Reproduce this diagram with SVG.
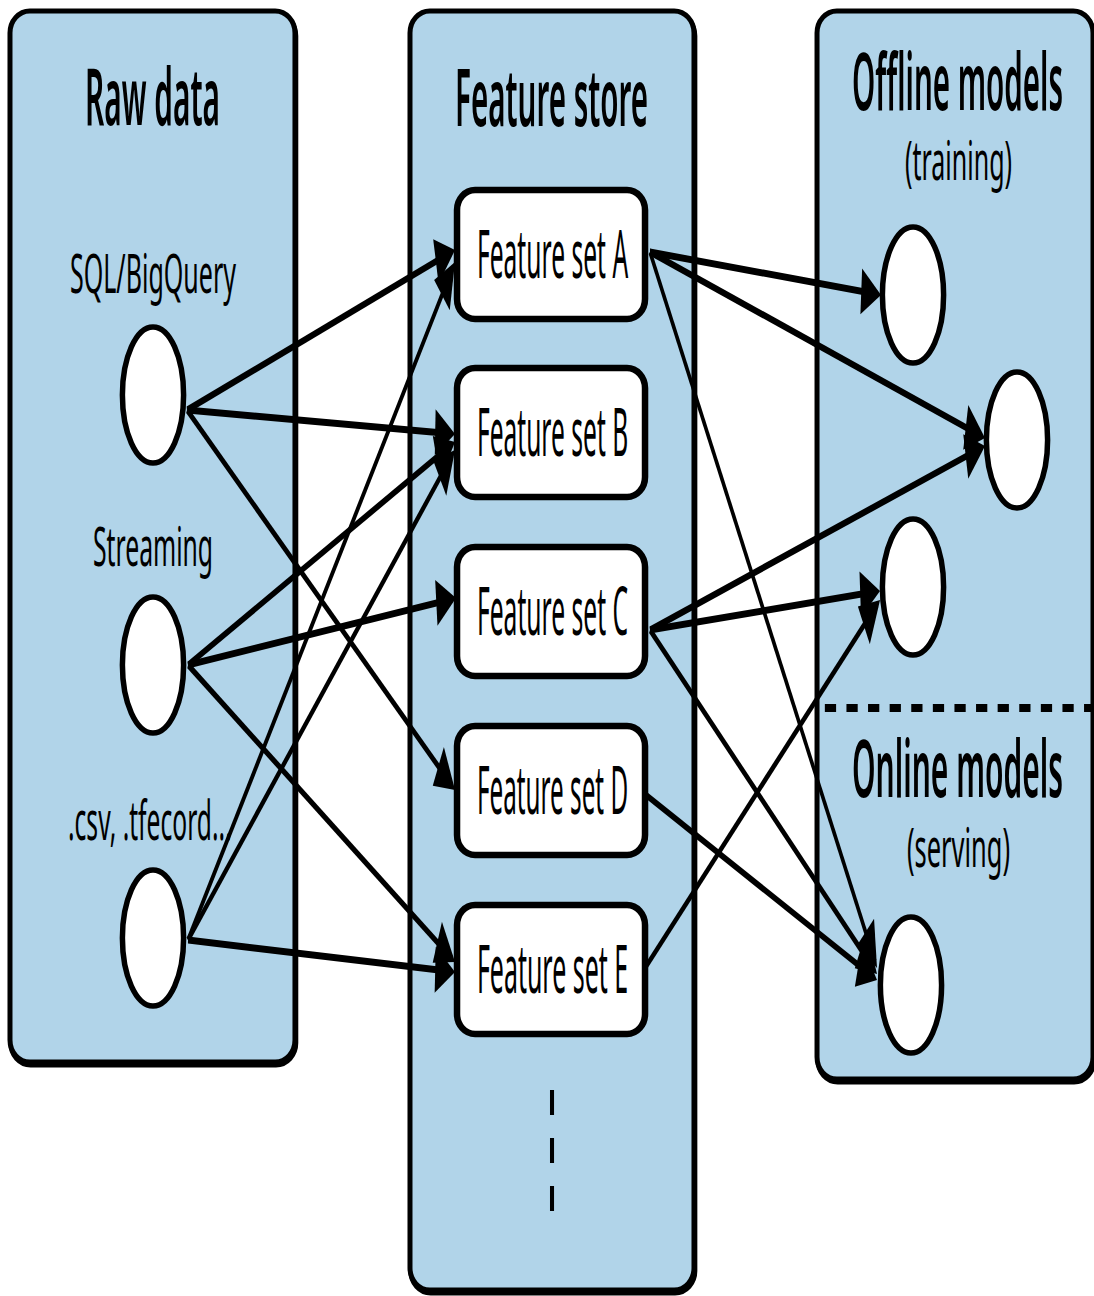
<svg xmlns="http://www.w3.org/2000/svg" width="1094" height="1296" viewBox="0 0 1094 1296">
<defs>
<style>
.panel{fill:#b1d4e9;stroke:#000;stroke-width:5;vector-effect:non-scaling-stroke}
.shadow{fill:#000;stroke:#000;stroke-width:5;vector-effect:non-scaling-stroke}
.box{fill:#fff;stroke:#000;stroke-width:6.5;vector-effect:non-scaling-stroke}
.dot{fill:#fff;stroke:#000;stroke-width:5.5;vector-effect:non-scaling-stroke}
.conn{fill:none;stroke:#000;stroke-width:7;marker-end:url(#ah)}
.sep{fill:none;stroke:#000;stroke-dasharray:25 23}
text{font-family:"Noto Sans","Liberation Sans",sans-serif;text-anchor:middle;fill:#000}
.title{font-size:80px;font-weight:600}
.sub{font-size:54px}
.lab{font-size:54px}
.fs{font-size:68px}
</style>
<marker id="ah" markerUnits="userSpaceOnUse" markerWidth="44" markerHeight="46" viewBox="0 0 44 46" refX="36" refY="23" orient="auto" overflow="visible">
<path d="M0,0 L44,23 L0,46 z" fill="#000"/>
</marker>
</defs>
<rect width="1094" height="1296" fill="#fff"/>
<g transform="scale(0.45 1)">
  <g id="panel-raw">
    <rect class="shadow" x="24" y="14" width="633.3" height="1051" rx="44" ry="22"/>
    <rect class="panel" x="22.2" y="11" width="633.3" height="1051" rx="44" ry="22"/>
    <text class="title" x="338.9" y="125" textLength="300" lengthAdjust="spacingAndGlyphs">Raw data</text>
  </g>
  <g id="panel-store">
    <rect class="shadow" x="913" y="14" width="631.1" height="1279" rx="44" ry="22"/>
    <rect class="panel" x="911.1" y="11" width="631.1" height="1279" rx="44" ry="22"/>
    <text class="title" x="1225.6" y="126" textLength="429" lengthAdjust="spacingAndGlyphs">Feature store</text>
    <line class="sep" x1="1226.7" y1="1090" x2="1226.7" y2="1213" stroke-width="9"/>
  </g>
  <g id="panel-models">
    <rect class="shadow" x="1817.6" y="14" width="613.3" height="1068" rx="44" ry="22"/>
    <rect class="panel" x="1815.6" y="11" width="613.3" height="1068" rx="44" ry="22"/>
    <text class="title" x="2127.8" y="110" textLength="469" lengthAdjust="spacingAndGlyphs">Offline models</text>
    <text class="sub" x="2130" y="180" textLength="238" lengthAdjust="spacingAndGlyphs">(training)</text>
    <line class="sep" x1="1833" y1="708" x2="2440" y2="708" stroke-width="8"/>
    <text class="title" x="2127.8" y="797" textLength="469" lengthAdjust="spacingAndGlyphs">Online models</text>
    <text class="sub" x="2130" y="867" textLength="229" lengthAdjust="spacingAndGlyphs">(serving)</text>
  </g>
  <g id="connectors">
    <line class="conn" x1="415.6" y1="410" x2="1003.4" y2="252.1"/>
    <line class="conn" x1="415.6" y1="410" x2="1003.1" y2="433.7"/>
    <line class="conn" x1="415.6" y1="410" x2="1004.4" y2="785.7"/>
    <line class="conn" x1="417.8" y1="665" x2="1003.6" y2="444.8"/>
    <line class="conn" x1="417.8" y1="665" x2="1005.4" y2="598.9"/>
    <line class="conn" x1="417.8" y1="665" x2="1004.0" y2="958.4"/>
    <line class="conn" x1="417.8" y1="940" x2="1005.8" y2="268.0"/>
    <line class="conn" x1="417.8" y1="940" x2="1004.9" y2="455.1"/>
    <line class="conn" x1="417.8" y1="940" x2="1003.1" y2="971.6"/>
    <line class="conn" x1="1444.4" y1="252" x2="1949.8" y2="294.3"/>
    <line class="conn" x1="1444.4" y1="252" x2="2181.1" y2="436.1"/>
    <line class="conn" x1="1444.4" y1="252" x2="1944.3" y2="961.5"/>
    <line class="conn" x1="1444.4" y1="630" x2="2181.1" y2="447.9"/>
    <line class="conn" x1="1444.4" y1="630" x2="1947.6" y2="591.6"/>
    <line class="conn" x1="1444.4" y1="630" x2="1942.3" y2="969.5"/>
    <line class="conn" x1="1435.6" y1="795" x2="1941.4" y2="977.3"/>
    <line class="conn" x1="1437.8" y1="965" x2="1949.1" y2="604.6"/>
  </g>
  <g id="src-sql">
    <text class="lab" x="340" y="293" textLength="369" lengthAdjust="spacingAndGlyphs">SQL/BigQuery</text>
    <circle class="dot" cx="340" cy="395" r="68"/>
  </g>
  <g id="src-streaming">
    <text class="lab" x="340" y="566" textLength="267" lengthAdjust="spacingAndGlyphs">Streaming</text>
    <circle class="dot" cx="340" cy="665" r="68"/>
  </g>
  <g id="src-files">
    <text class="lab" x="333" y="840" textLength="364" lengthAdjust="spacingAndGlyphs">.csv, .tfecord...</text>
    <circle class="dot" cx="340" cy="938" r="68"/>
  </g>
  <g id="fs-a">
    <rect class="box" x="1015.6" y="190" width="417.8" height="129" rx="40" ry="20"/>
    <text class="fs" x="1227.8" y="278" textLength="336" lengthAdjust="spacingAndGlyphs">Feature set A</text>
  </g>
  <g id="fs-b">
    <rect class="box" x="1015.6" y="368" width="417.8" height="129" rx="40" ry="20"/>
    <text class="fs" x="1227.8" y="456" textLength="336" lengthAdjust="spacingAndGlyphs">Feature set B</text>
  </g>
  <g id="fs-c">
    <rect class="box" x="1015.6" y="547" width="417.8" height="129" rx="40" ry="20"/>
    <text class="fs" x="1227.8" y="635" textLength="336" lengthAdjust="spacingAndGlyphs">Feature set C</text>
  </g>
  <g id="fs-d">
    <rect class="box" x="1015.6" y="726" width="417.8" height="129" rx="40" ry="20"/>
    <text class="fs" x="1227.8" y="814" textLength="336" lengthAdjust="spacingAndGlyphs">Feature set D</text>
  </g>
  <g id="fs-e">
    <rect class="box" x="1015.6" y="905" width="417.8" height="129" rx="40" ry="20"/>
    <text class="fs" x="1227.8" y="993" textLength="336" lengthAdjust="spacingAndGlyphs">Feature set E</text>
  </g>
  <g id="model-offline-1"><circle class="dot" cx="2028.9" cy="295" r="68"/></g>
  <g id="model-offline-2"><circle class="dot" cx="2260" cy="440" r="68"/></g>
  <g id="model-offline-3"><circle class="dot" cx="2028.9" cy="587" r="68"/></g>
  <g id="model-online-1"><circle class="dot" cx="2024.4" cy="985" r="68"/></g>
</g>
</svg>
